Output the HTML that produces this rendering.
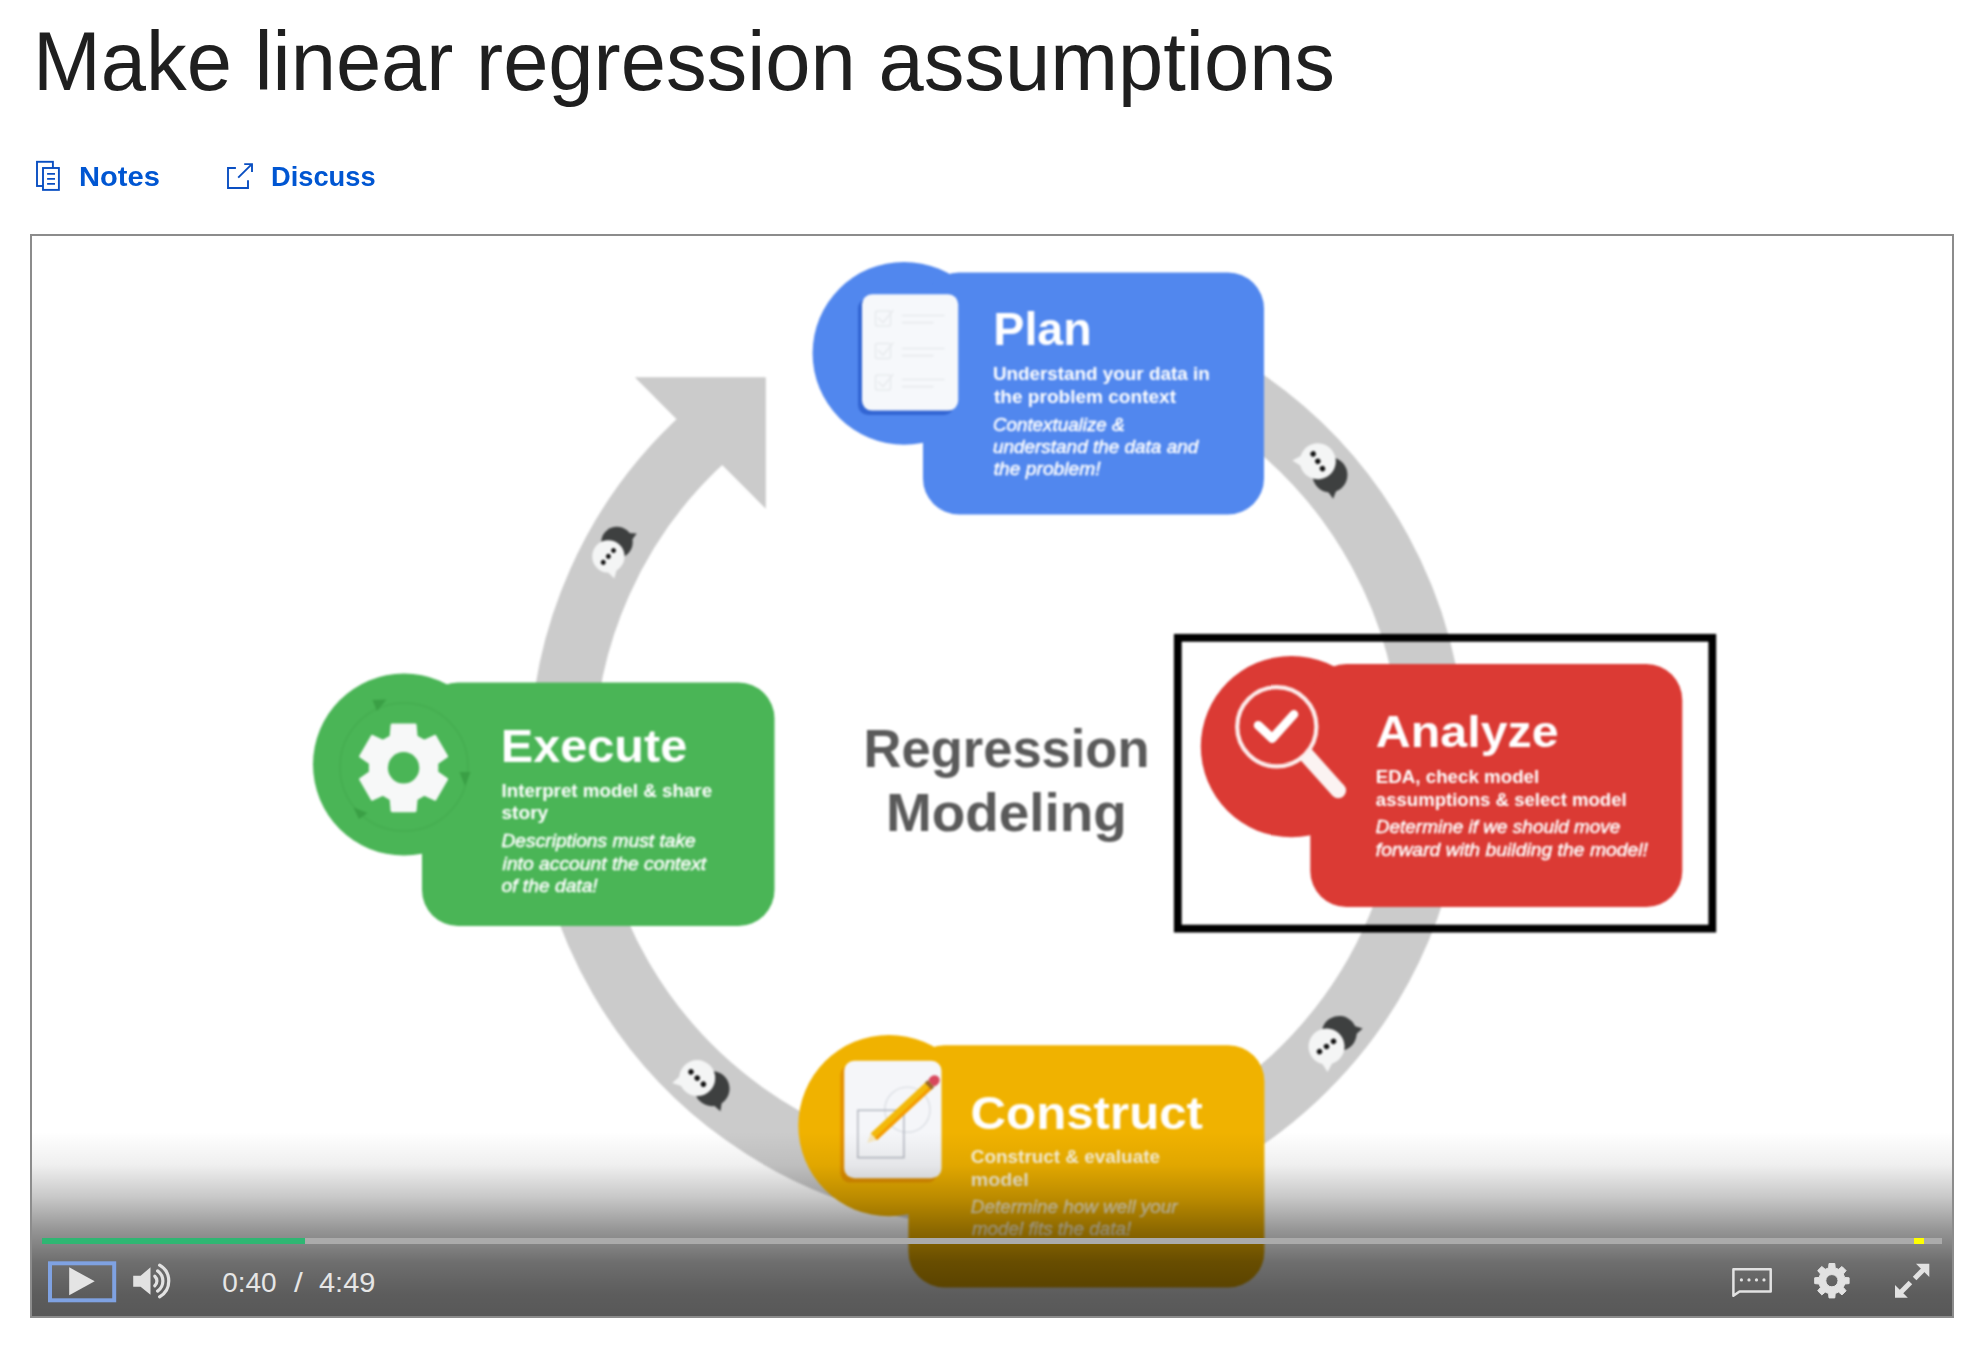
<!DOCTYPE html>
<html lang="en">
<head>
<meta charset="utf-8">
<title>Make linear regression assumptions</title>
<style>
  html, body { margin: 0; padding: 0; background: #fff; }
  body { width: 1984px; height: 1354px; position: relative; overflow: hidden;
         font-family: "Liberation Sans", sans-serif; }
  h1.title { position: absolute; left: 32.7px; top: 12px; margin: 0; font-weight: 400;
         font-size: 83px; line-height: 100px; color: #1f1f1f; white-space: nowrap;
         transform-origin: 0 0; transform: scaleX(0.98); }
  .toolbar { position: absolute; left: 0; top: 151px; height: 52px; width: 600px; }
  .toolbar a { position: absolute; top: 0; height: 52px; color: #0056d2; font-weight: 700;
         font-size: 28px; line-height: 52px; text-decoration: none; white-space: nowrap; }
  .toolbar a span { position: absolute; top: 0; display: block; transform-origin: 0 50%; }
  .toolbar svg { position: absolute; left: 0; top: 0; width: 600px; height: 52px; }
  .video { position: absolute; left: 30px; top: 234px; width: 1920px; height: 1080px;
         border: 2px solid #8c8c8c; background: #fff; overflow: hidden; }
  .video svg.slide { position: absolute; left: 0; top: 0; width: 1920px; height: 1080px; filter: blur(0.9px); }
  .controls { position: absolute; left: 0; right: 0; bottom: 0; height: 190px;
         background: linear-gradient(to bottom, rgba(0,0,0,0.000) 3.2%, rgba(0,0,0,0.063) 20.5%, rgba(0,0,0,0.216) 37.4%, rgba(0,0,0,0.416) 54.7%, rgba(0,0,0,0.569) 71.6%, rgba(0,0,0,0.639) 88.9%, rgba(0,0,0,0.655) 100.0%); }
  .progress { position: absolute; left: 10px; top: 112px; width: 1900px; height: 6px;
         background: #ababab; }
  .progress .played { position: absolute; left: 0; top: 0; height: 6px; width: 263px; background: #2fb673; }
  .progress .marker { position: absolute; left: 1872px; top: 0; height: 6px; width: 10px; background: #ffff00; }
  .controls svg.icons { position: absolute; left: 0; top: 0; width: 1920px; height: 190px; }
</style>
</head>
<body>
<h1 class="title">Make linear regression assumptions</h1>

<div class="toolbar">
  <svg viewBox="0 151 600 52" fill="none" stroke="#0a4fc2" stroke-width="1.9">
    <rect x="37" y="161.8" width="15.9" height="24.2"/>
    <rect x="43" y="168" width="15.9" height="21.9" fill="#fff"/>
    <path d="M47.1 173.9 H55 M47.1 178.9 H55 M47.1 183.9 H55"/>
    <path d="M235.9 168 H228 V188 H248 V180.2"/>
    <path d="M238.2 177.6 L251.6 164.3 M244.2 164.1 H252 V171.9"/>
  </svg>
  <a style="left:79.3px;width:90px"><span style="transform:scaleX(1.039)">Notes</span></a>
  <a style="left:271.4px;width:110px"><span style="transform:scaleX(0.974)">Discuss</span></a>
</div>

<div class="video">
  <svg class="slide" viewBox="32 236 1920 1080" font-family="Liberation Sans, sans-serif">
    <defs>
      <g id="chat">
        <circle cx="18" cy="-3" r="17.5" fill="#3e4040"/>
        <polygon points="34.7,0.2 39.8,7.1 31.2,7.7" fill="#3e4040"/>
        <circle cx="0" cy="0" r="18" fill="#f4f5f5"/>
        <polygon points="-5.1,16.7 -14.3,21.1 -13.6,11.0" fill="#f4f5f5"/>
        <circle cx="-8.7" cy="0" r="2.7" fill="#111"/><circle cx="0" cy="0" r="2.7" fill="#111"/><circle cx="8.7" cy="0" r="2.7" fill="#111"/>
      </g>
    </defs>
    <!-- ring -->
    <g id="ring">
      <path d="M 1073.1 330.6 A 435.5 435.5 0 1 1 707.8 434.3" fill="none" stroke="#cbcbcb" stroke-width="64.5"/>
      <polygon points="634.8,377.3 765.8,377.3 765.8,508.8" fill="#cbcbcb"/>
      <use href="#chat" transform="translate(1317.8 461.3) rotate(57.6)"/>
      <use href="#chat" transform="translate(608.4 556.4) rotate(-49) scale(0.9)"/>
      <use href="#chat" transform="translate(1326.5 1046.5) rotate(-36.5)"/>
      <use href="#chat" transform="translate(697.2 1078.1) rotate(44.8)"/>
    </g>


    <!-- centre label -->
    <g id="centre" font-size="53" font-weight="700" fill="#5a5a5a">
      <text x="863.6" y="767.1" textLength="285.9" lengthAdjust="spacingAndGlyphs">Regression</text>
      <text x="886" y="831.1" textLength="240.9" lengthAdjust="spacingAndGlyphs">Modeling</text>
    </g>
    <!-- PLAN -->
    <g id="plan">
      <circle cx="904" cy="353.3" r="91.4" fill="#5187ee"/>
      <rect x="923" y="272.5" width="341" height="242" rx="36" fill="#5187ee"/>
      <rect x="858" y="298.5" width="96" height="116.5" rx="10" fill="#2f62cf" opacity="0.9"/>
      <rect x="862" y="294.2" width="96.2" height="116.4" rx="10" fill="#f6f8fb"/>
      <g stroke="#e8ebee" stroke-width="1.6" fill="none" stroke-linecap="round">
        <rect x="875.5" y="311" width="15" height="15" rx="2"/><path d="M878.5 318 l4.5 4.5 l10 -12"/>
        <path d="M902.5 315.5 H944 M902.5 322.6 H933"/>
        <rect x="875.5" y="343.5" width="15" height="15" rx="2"/><path d="M878.5 350.5 l4.5 4.5 l10 -12"/>
        <path d="M902.5 348.5 H944 M902.5 355.6 H933"/>
        <rect x="875.5" y="375" width="15" height="15" rx="2"/><path d="M878.5 382 l4.5 4.5 l10 -12"/>
        <path d="M902.5 379.5 H944 M902.5 386.6 H933"/>
      </g>
      <!--T:plan-->
      <g fill="#fff">
      <text x="993.3" y="345.4" font-size="46" font-weight="700" textLength="98.5" lengthAdjust="spacingAndGlyphs">Plan</text>
      <text x="992.9" y="380.1" font-size="17.5" font-weight="700" textLength="216.8" lengthAdjust="spacingAndGlyphs">Understand your data in</text>
      <text x="994.0" y="403.0" font-size="17.5" font-weight="700" textLength="182.0" lengthAdjust="spacingAndGlyphs">the problem context</text>
      <text x="992.9" y="431.1" font-size="17.5" font-style="italic" stroke="#fff" stroke-width="0.45" textLength="131.7" lengthAdjust="spacingAndGlyphs">Contextualize &amp;</text>
      <text x="992.9" y="453.2" font-size="17.5" font-style="italic" stroke="#fff" stroke-width="0.45" textLength="205.4" lengthAdjust="spacingAndGlyphs">understand the data and</text>
      <text x="993.7" y="474.7" font-size="17.5" font-style="italic" stroke="#fff" stroke-width="0.45" textLength="107.0" lengthAdjust="spacingAndGlyphs">the problem!</text>
      </g>
      <!--/T:plan-->
    </g>

    <!-- EXECUTE -->
    <g id="execute">
      <circle cx="404" cy="764.6" r="91" fill="#4ab556"/>
      <rect x="422" y="682.5" width="352.5" height="243.5" rx="36" fill="#4ab556"/>
      <circle cx="404" cy="767" r="64" fill="none" stroke="#43a94e" stroke-width="2" opacity="0.55"/>
      <polygon points="372.5,700 386.5,699.5 377,711" fill="#3a9f45"/>
      <polygon points="459.5,772 470.5,772 465,786" fill="#3a9f45"/>
      <polygon points="353.5,807.5 367.5,813 359,819" fill="#3a9f45"/>
      <path d="M391.1 736.7 L392.1 724.9 L415.1 724.9 L416.1 736.7 L424.2 741.4 L435.0 736.4 L446.5 756.3 L436.8 763.1 L436.8 772.5 L446.5 779.3 L435.0 799.2 L424.2 794.2 L416.1 798.9 L415.1 810.7 L392.1 810.7 L391.1 798.9 L383.0 794.2 L372.2 799.2 L360.7 779.3 L370.4 772.5 L370.4 763.1 L360.7 756.3 L372.2 736.4 L383.0 741.4 Z" fill="#f7f8f8" stroke="#f7f8f8" stroke-width="3" stroke-linejoin="round"/>
      <circle cx="403.6" cy="767.8" r="15.7" fill="#4ab556"/>
      <!--T:execute-->
      <g fill="#fff">
      <text x="500.8" y="761.7" font-size="46" font-weight="700" textLength="186.4" lengthAdjust="spacingAndGlyphs">Execute</text>
      <text x="501.5" y="797.2" font-size="17.5" font-weight="700" textLength="210.6" lengthAdjust="spacingAndGlyphs">Interpret model &amp; share</text>
      <text x="501.5" y="819.3" font-size="17.5" font-weight="700" textLength="46.7" lengthAdjust="spacingAndGlyphs">story</text>
      <text x="501.5" y="846.7" font-size="17.5" font-style="italic" stroke="#fff" stroke-width="0.45" textLength="194.2" lengthAdjust="spacingAndGlyphs">Descriptions must take</text>
      <text x="502.6" y="869.5" font-size="17.5" font-style="italic" stroke="#fff" stroke-width="0.45" textLength="203.6" lengthAdjust="spacingAndGlyphs">into account the context</text>
      <text x="501.5" y="891.7" font-size="17.5" font-style="italic" stroke="#fff" stroke-width="0.45" textLength="96.2" lengthAdjust="spacingAndGlyphs">of the data!</text>
      </g>
      <!--/T:execute-->
    </g>

    <!-- ANALYZE -->
    <g id="analyze">
      <rect x="1177.8" y="637.8" width="534.5" height="290.8" fill="none" stroke="#000" stroke-width="7.8"/>
      <circle cx="1291.5" cy="746.6" r="90.7" fill="#db3a34"/>
      <rect x="1310.3" y="664" width="372" height="243" rx="36" fill="#db3a34"/>
      <circle cx="1276.8" cy="726.8" r="39.6" fill="none" stroke="#fdeceb" stroke-width="4.2"/>
      <path d="M1305.5 754 L1338.3 790.6" stroke="#fbf3f2" stroke-width="15.5" fill="none"/>
      <circle cx="1338.3" cy="790.6" r="7.75" fill="#fbf3f2"/>
      <path d="M1258.2 725.3 L1272.2 738.5 L1293.9 714.4" stroke="#fff" stroke-width="8.8" fill="none" stroke-linecap="round" stroke-linejoin="round"/>
      <!--T:analyze-->
      <g fill="#fff">
      <text x="1375.8" y="747.4" font-size="45" font-weight="700" textLength="182.9" lengthAdjust="spacingAndGlyphs">Analyze</text>
      <text x="1375.8" y="782.9" font-size="17.5" font-weight="700" textLength="163.4" lengthAdjust="spacingAndGlyphs">EDA, check model</text>
      <text x="1375.8" y="806.3" font-size="17.5" font-weight="700" textLength="250.9" lengthAdjust="spacingAndGlyphs">assumptions &amp; select model</text>
      <text x="1375.8" y="832.9" font-size="17.5" font-style="italic" stroke="#fff" stroke-width="0.45" textLength="244.6" lengthAdjust="spacingAndGlyphs">Determine if we should move</text>
      <text x="1375.8" y="855.5" font-size="17.5" font-style="italic" stroke="#fff" stroke-width="0.45" textLength="272.2" lengthAdjust="spacingAndGlyphs">forward with building the model!</text>
      </g>
      <!--/T:analyze-->
    </g>

    <!-- CONSTRUCT -->
    <g id="construct">
      <circle cx="889" cy="1125.6" r="90.7" fill="#f0b200"/>
      <rect x="908.4" y="1045.3" width="356" height="242.3" rx="36" fill="#f0b200"/>
      <rect x="840.3" y="1065" width="97" height="117.6" rx="10" fill="#e38f00" opacity="0.9"/>
      <rect x="844.2" y="1060.7" width="97.3" height="117.6" rx="10" fill="#f5f6f9"/>
      <circle cx="907.4" cy="1109.7" r="22.6" fill="none" stroke="#dcdfe4" stroke-width="1.4"/>
      <rect x="857.8" y="1110.3" width="46.1" height="47.3" fill="none" stroke="#b4b8c1" stroke-width="1.5"/>
      <g transform="translate(867.3 1142.8) rotate(-42.9)">
        <polygon points="0,0 9,-4.6 9,4.6" fill="#f6e7bd"/>
        <rect x="9" y="-4.6" width="76" height="9.2" fill="#f3b90a"/>
        <rect x="9" y="1.6" width="76" height="3" fill="#f59a00"/>
        <rect x="83" y="-4.8" width="4" height="9.6" fill="#9a6a2a"/>
        <rect x="87" y="-5" width="7" height="10" rx="3" fill="#d8475c"/>
        <circle cx="92" cy="0" r="5" fill="#d8475c"/>
      </g>
      <!--T:construct-->
      <g fill="#fff">
      <text x="970.5" y="1129.3" font-size="46" font-weight="700" textLength="232.5" lengthAdjust="spacingAndGlyphs">Construct</text>
      <text x="970.8" y="1163.2" font-size="17.5" font-weight="700" fill-opacity="0.85" textLength="189.2" lengthAdjust="spacingAndGlyphs">Construct &amp; evaluate</text>
      <text x="970.8" y="1185.8" font-size="17.5" font-weight="700" fill-opacity="0.85" textLength="58.0" lengthAdjust="spacingAndGlyphs">model</text>
      <text x="970.8" y="1213.3" font-size="17.5" font-style="italic" fill-opacity="0.68" stroke="#fff" stroke-width="0.45" stroke-opacity="0.68" textLength="206.8" lengthAdjust="spacingAndGlyphs">Determine how well your</text>
      <text x="971.9" y="1234.5" font-size="17.5" font-style="italic" fill-opacity="0.68" stroke="#fff" stroke-width="0.45" stroke-opacity="0.68" textLength="159.4" lengthAdjust="spacingAndGlyphs">model fits the data!</text>
      </g>
      <!--/T:construct-->
    </g>
  </svg>

  <div class="controls">
    <div class="progress"><div class="played"></div><div class="marker"></div></div>
    <svg class="icons" viewBox="32 1126 1920 190" font-family="Liberation Sans, sans-serif">
      <!-- play (focused) -->
      <rect x="50" y="1263.3" width="64.2" height="37" fill="none" stroke="#7fa2e2" stroke-width="4"/>
      <polygon points="69.2,1267.3 69.2,1295.3 94.7,1281.3" fill="#e4e4e4"/>
      <!-- volume -->
      <path d="M133.2 1275.8 H140.6 L150.5 1267.3 V1294.8 L140.6 1286.7 H133.2 Z" fill="#e2e2e2"/>
      <g fill="none" stroke="#e2e2e2" stroke-width="3.2" stroke-linecap="round">
        <path d="M154.8 1276.2 A6.5 6.5 0 0 1 154.8 1285.8"/><path d="M157.6 1270.9 A12.3 12.3 0 0 1 157.6 1291.1"/><path d="M159.6 1265.2 A18.2 18.2 0 0 1 159.6 1296.8"/>
      </g>
      <!-- time -->
      <g font-size="28" fill="#e6e6e6">
        <text x="222.2" y="1292">0:40</text>
        <text x="294" y="1292" textLength="8.8" lengthAdjust="spacingAndGlyphs">/</text>
        <text x="319" y="1292" textLength="56.4" lengthAdjust="spacingAndGlyphs">4:49</text>
      </g>
      <!-- subtitles -->
      <path d="M1733.4 1295 V1269.2 H1770.7 V1291.5 H1739.5 L1733.4 1295.8 Z" fill="none" stroke="#e2e2e2" stroke-width="2.5" stroke-linejoin="round"/>
      <g fill="#e2e2e2"><circle cx="1741.4" cy="1279.9" r="1.6"/><circle cx="1749" cy="1279.9" r="1.6"/><circle cx="1756.5" cy="1279.9" r="1.6"/><circle cx="1764" cy="1279.9" r="1.6"/></g>
      <!-- settings -->
      <path d="M1828.6 1267.9 L1829.0 1263.5 L1834.8 1263.5 L1835.2 1267.9 L1838.6 1269.3 L1842.0 1266.5 L1846.1 1270.6 L1843.3 1274.0 L1844.7 1277.4 L1849.1 1277.8 L1849.1 1283.6 L1844.7 1284.0 L1843.3 1287.4 L1846.1 1290.8 L1842.0 1294.9 L1838.6 1292.1 L1835.2 1293.5 L1834.8 1297.9 L1829.0 1297.9 L1828.6 1293.5 L1825.2 1292.1 L1821.8 1294.9 L1817.7 1290.8 L1820.5 1287.4 L1819.1 1284.0 L1814.7 1283.6 L1814.7 1277.8 L1819.1 1277.4 L1820.5 1274.0 L1817.7 1270.6 L1821.8 1266.5 L1825.2 1269.3 Z M1838 1280.7 A6.1 6.1 0 1 0 1825.800 1280.7 A6.1 6.1 0 1 0 1838 1280.7 Z" fill="#e2e2e2" fill-rule="evenodd" stroke="#e2e2e2" stroke-width="1" stroke-linejoin="round"/>
      <!-- fullscreen -->
      <g fill="#e2e2e2" stroke="none">
        <polygon points="1916,1263.7 1929.3,1263.7 1929.3,1277"/>
        <polygon points="1895,1284.9 1895,1297.7 1907.8,1297.7"/>
      </g>
      <g stroke="#e2e2e2" stroke-width="5" fill="none">
        <path d="M1923.5 1269.5 L1914.6 1278.4"/>
        <path d="M1910.4 1282.6 L1900.8 1292.2"/>
      </g>
    </svg>
  </div>
</div>
</body>
</html>
